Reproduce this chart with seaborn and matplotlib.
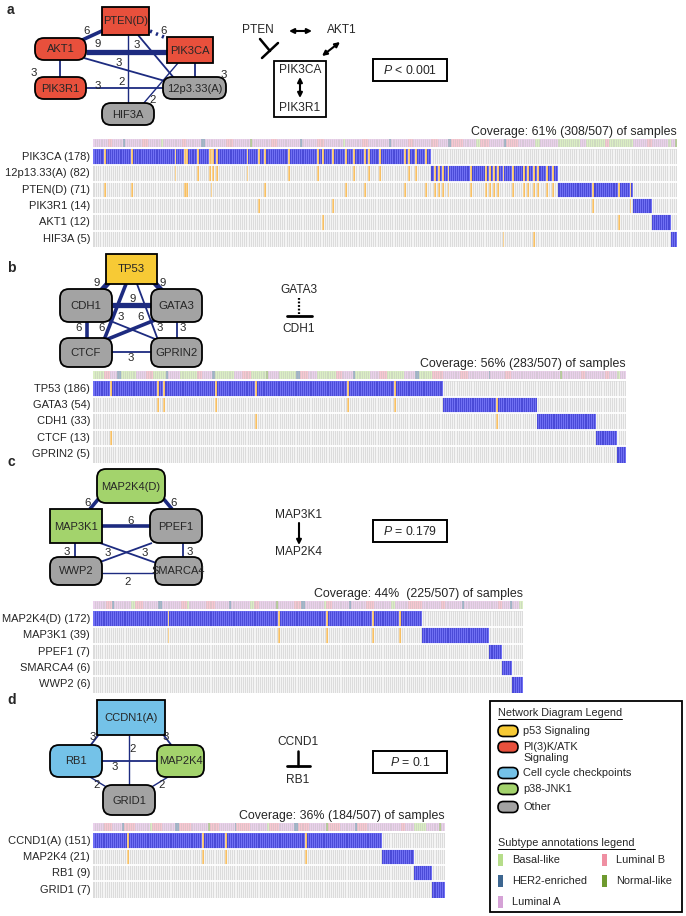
import numpy as np
import pandas as pd
import matplotlib.pyplot as plt
import seaborn as sns
from matplotlib.colors import ListedColormap, to_rgb
from matplotlib.patches import FancyBboxPatch, Rectangle

# ── Data ─────────────────────────────────────────────────────────────────────
# panel a
a_genes   = ["PIK3CA", "12p13.33(A)", "PTEN(D)", "PIK3R1", "AKT1", "HIF3A"]
a_counts  = [178, 82, 71, 14, 12, 5]
a_blocks  = [178, 67, 40, 10, 10, 3]          # samples whose first hit is this gene
a_cooc    = {1: [43, 55, 61, 63, 65, 81, 103, 118, 137, 145, 151, 166, 170],
             2: [6, 20, 48, 49, 62, 90, 133, 143, 164, 175, 180, 182, 184, 187, 199,
                 207, 209, 211, 213, 221, 227, 229, 232, 234, 239, 242],
             3: [87, 126, 263, 283],
             4: [121, 277],
             5: [216, 232]}
a_subtype = [("L", 8), ("B", 2), ("L", 6), ("H", 1), ("L", 9), ("B", 3), ("L", 7), ("S", 1),
             ("L", 10), ("B", 2), ("L", 8), ("H", 2), ("L", 11), ("B", 4), ("L", 9), ("N", 1),
             ("L", 10), ("B", 3), ("L", 12), ("H", 1), ("L", 8), ("B", 4), ("L", 10), ("S", 1),
             ("L", 9), ("B", 3), ("L", 11), ("H", 1), ("L", 9), ("B", 3), ("L", 9),
             ("B", 4), ("L", 5), ("H", 2), ("B", 6), ("L", 7), ("S", 2), ("B", 5), ("L", 8),
             ("H", 1), ("B", 6), ("L", 9), ("S", 3), ("L", 9),
             ("S", 12), ("L", 3), ("S", 10), ("B", 2), ("S", 13),
             ("L", 7), ("B", 3), ("L", 8), ("S", 2), ("L", 2), ("N", 1)]
a_cov     = "Coverage: 61% (308/507) of samples"
a_pval    = "$P$ < 0.001"
a_nodes   = {"PTEN(D)": "pi3k", "AKT1": "pi3k", "PIK3CA": "pi3k", "PIK3R1": "pi3k",
             "12p3.33(A)": "other", "HIF3A": "other"}
a_edges   = [("PTEN(D)", "AKT1", 6), ("PTEN(D)", "PIK3CA", 6), ("AKT1", "PIK3CA", 9),
             ("PTEN(D)", "12p3.33(A)", 3), ("PTEN(D)", "HIF3A", 2), ("AKT1", "12p3.33(A)", 3),
             ("PIK3CA", "12p3.33(A)", 3), ("PIK3CA", "HIF3A", 2), ("AKT1", "PIK3R1", 3),
             ("PIK3R1", "12p3.33(A)", 3)]

# panel b
b_genes   = ["TP53", "GATA3", "CDH1", "CTCF", "GPRIN2"]
b_counts  = [186, 54, 33, 13, 5]
b_blocks  = [186, 50, 31, 11, 5]
b_cooc    = {1: [34, 37, 65, 135, 160], 2: [86, 214], 3: [9]}
b_subtype = [("S", 6), ("B", 3), ("L", 4), ("H", 2), ("S", 8), ("L", 5), ("B", 4), ("S", 7),
             ("H", 1), ("L", 6), ("S", 9), ("B", 3), ("L", 5), ("H", 2), ("S", 10), ("L", 4),
             ("B", 5), ("S", 8), ("N", 1), ("L", 6), ("S", 9), ("H", 2), ("B", 4), ("L", 5),
             ("S", 10), ("B", 3), ("L", 6), ("H", 1), ("S", 8), ("L", 5), ("B", 4), ("S", 9),
             ("L", 6), ("H", 2), ("S", 7), ("B", 6),
             ("L", 9), ("B", 4), ("L", 11), ("H", 1), ("L", 8), ("B", 3), ("L", 14),
             ("L", 12), ("N", 1), ("L", 10), ("B", 2), ("L", 6),
             ("L", 5), ("B", 2), ("L", 4), ("S", 2), ("L", 3)]
b_cov     = "Coverage: 56% (283/507) of samples"
b_nodes   = {"TP53": "p53", "CDH1": "other", "GATA3": "other", "CTCF": "other", "GPRIN2": "other"}
b_edges   = [("TP53", "CDH1", 9), ("TP53", "GATA3", 9), ("CDH1", "GATA3", 9),
             ("TP53", "CTCF", 6), ("TP53", "GPRIN2", 3), ("CDH1", "CTCF", 6),
             ("CDH1", "GPRIN2", 3), ("GATA3", "CTCF", 6), ("GATA3", "GPRIN2", 3),
             ("CTCF", "GPRIN2", 3)]

# panel c
c_genes   = ["MAP2K4(D)", "MAP3K1", "PPEF1", "SMARCA4", "WWP2"]
c_counts  = [172, 39, 7, 6, 6]
c_blocks  = [172, 35, 7, 5, 6]
c_cooc    = {1: [39, 97, 122, 146, 160]}
c_subtype = [("L", 7), ("B", 3), ("H", 1), ("L", 9), ("S", 2), ("B", 4), ("L", 8), ("H", 2),
             ("L", 10), ("B", 3), ("S", 1), ("L", 9), ("B", 5), ("L", 7), ("H", 1), ("L", 10),
             ("S", 2), ("B", 3), ("L", 9), ("N", 1), ("L", 8), ("B", 4), ("H", 2), ("L", 10),
             ("S", 1), ("B", 3), ("L", 9), ("H", 1), ("L", 8), ("B", 4), ("L", 9), ("S", 2),
             ("L", 7), ("B", 7),
             ("L", 10), ("B", 2), ("L", 9), ("H", 1), ("L", 13),
             ("L", 5), ("B", 2), ("L", 4), ("H", 1), ("L", 4), ("S", 2)]
c_cov     = "Coverage: 44%  (225/507) of samples"
c_pval    = "$P$ = 0.179"
c_nodes   = {"MAP2K4(D)": "p38", "MAP3K1": "p38", "PPEF1": "other", "WWP2": "other",
             "SMARCA4": "other"}
c_edges   = [("MAP2K4(D)", "MAP3K1", 6), ("MAP2K4(D)", "PPEF1", 6), ("MAP3K1", "PPEF1", 6),
             ("MAP3K1", "WWP2", 3), ("PPEF1", "SMARCA4", 3), ("MAP3K1", "SMARCA4", 3),
             ("PPEF1", "WWP2", 3), ("WWP2", "SMARCA4", 2)]

# panel d
d_genes   = ["CCND1(A)", "MAP2K4", "RB1", "GRID1"]
d_counts  = [151, 21, 9, 7]
d_blocks  = [151, 17, 9, 7]
d_cooc    = {1: [18, 57, 69, 111]}
d_subtype = [("L", 6), ("B", 4), ("L", 5), ("H", 1), ("B", 6), ("L", 8), ("S", 1), ("B", 5),
             ("L", 7), ("H", 2), ("B", 6), ("L", 9), ("N", 1), ("B", 5), ("L", 8), ("H", 1),
             ("B", 7), ("L", 9), ("S", 1), ("B", 5), ("L", 8), ("H", 2), ("B", 6), ("L", 9),
             ("N", 1), ("B", 6), ("L", 8), ("H", 1), ("B", 5), ("L", 8),
             ("L", 10), ("B", 2), ("L", 5), ("S", 6), ("L", 3), ("L", 4), ("N", 1), ("L", 2)]
d_cov     = "Coverage: 36% (184/507) of samples"
d_pval    = "$P$ = 0.1"
d_nodes   = {"CCDN1(A)": "cycle", "RB1": "cycle", "MAP2K4": "p38", "GRID1": "other"}
d_edges   = [("CCDN1(A)", "RB1", 3), ("CCDN1(A)", "MAP2K4", 3), ("CCDN1(A)", "GRID1", 2),
             ("RB1", "MAP2K4", 3), ("RB1", "GRID1", 2), ("MAP2K4", "GRID1", 2)]

# legends
net_legend   = [("p53", "p53 Signaling"), ("pi3k", "PI(3)K/ATK\nSignaling"),
                ("cycle", "Cell cycle checkpoints"), ("p38", "p38-JNK1"), ("other", "Other")]
subtype_names = {"S": "Basal-like", "H": "HER2-enriched", "L": "Luminal A",
                 "B": "Luminal B", "N": "Normal-like"}

# ── Style ────────────────────────────────────────────────────────────────────
NODE_COL = {"p53": "#f7ca35", "pi3k": "#e8503c", "cycle": "#74c2e8",
            "p38": "#a3d36c", "other": "#a3a3a3"}
SUB_COL  = {"S": "#b6dd8a", "H": "#3d6690", "L": "#d5a2d6", "B": "#ef8fa2", "N": "#6f9a2f"}
SUB_ORDER = ["S", "H", "L", "B", "N"]
EDGE   = "#1d2b80"
EDGE_LW = {2: 1.0, 3: 1.3, 6: 2.6, 9: 3.8}
ONC_CMAP = ListedColormap(["#dcdcdc", "#7070f4", "#f7bf63"])
STRIPE = {0: "#ffffff", 1: "#3a3acb", 2: "#fbdca8"}


def pale(c, k=0.5):
    r = np.array(to_rgb(c))
    return tuple(1 - k * (1 - r))


SUB_CMAP = ListedColormap([pale(SUB_COL[s]) for s in SUB_ORDER])

W, H = 686, 916
sns.set_theme(style="white")
plt.rcParams["font.family"] = ["Liberation Sans", "DejaVu Sans"]
plt.rcParams["mathtext.fontset"] = "custom"
plt.rcParams["mathtext.it"] = "Liberation Sans:italic"
plt.rcParams["mathtext.rm"] = "Liberation Sans"

fig = plt.figure(figsize=(W / 100, H / 100), dpi=100)
ax0 = fig.add_axes([0, 0, 1, 1])
ax0.set_xlim(0, W)
ax0.set_ylim(H, 0)
ax0.axis("off")


def px_box(x0, y0, x1, y1):
    return [x0 / W, 1 - y1 / H, (x1 - x0) / W, (y1 - y0) / H]


def draw_net(nodes, edges, boxes, geom, fs=8):
    for (u, v, w), (p, q, lab, ls) in zip(edges, geom):
        ax0.plot([p[0], q[0]], [p[1], q[1]], color=EDGE, lw=EDGE_LW[w], ls=ls,
                 solid_capstyle="butt", zorder=2)
        if lab is not None:
            ax0.text(lab[0], lab[1], str(w), fontsize=8.2, ha="center", va="center", zorder=4)
    for name, cat in nodes.items():
        x0, y0, x1, y1, shape = boxes[name]
        style = "round,pad=0,rounding_size=9" if shape == "round" else "square,pad=0"
        ax0.add_patch(FancyBboxPatch((x0, y0), x1 - x0, y1 - y0, boxstyle=style,
                                     fc=NODE_COL[cat], ec="black", lw=1.3, zorder=3))
        ax0.text((x0 + x1) / 2, (y0 + y1) / 2 + 0.5, name, fontsize=fs, ha="center",
                 va="center", zorder=4)


def oncoprint(genes, counts, blocks, cooc, subtype, cov, x0, x1, y_ann, y_top, row_h=16.3):
    n = sum(blocks)
    owner = np.repeat(np.arange(len(blocks)), blocks)
    mat = np.zeros((len(genes), n), dtype=int)
    for r in range(len(blocks)):
        mat[r, owner == r] = 1
    for r, cols in cooc.items():
        for c in cols:
            mat[r, c] = 2
            mat[owner[c], c] = 2
    labels = [f"{g} ({k})" for g, k in zip(genes, counts)]
    df = pd.DataFrame(mat, index=labels)

    ax = fig.add_axes(px_box(x0, y_top, x1, y_top + len(genes) * row_h))
    sns.heatmap(df, ax=ax, cmap=ONC_CMAP, vmin=-0.5, vmax=2.5, cbar=False,
                xticklabels=False, yticklabels=True)
    ax.set_yticklabels(labels, rotation=0, fontsize=8)
    ax.tick_params(left=False, length=0, pad=2)
    ax.set_xlabel("")
    ax.set_ylabel("")
    # thin per-sample separators, tinted by the cell they belong to
    for r in range(len(genes)):
        ax.vlines(np.arange(1, n), r, r + 1, colors=[STRIPE[v] for v in mat[r, 1:]], lw=0.5)
    for i in range(1, len(genes)):
        ax.axhline(i, color="white", lw=1.3)

    codes = [SUB_ORDER.index(s) for s, k in subtype for _ in range(k)]
    ax2 = fig.add_axes(px_box(x0, y_ann, x1, y_ann + 7.5))
    sns.heatmap(np.array([codes]), ax=ax2, cmap=SUB_CMAP, vmin=-0.5, vmax=4.5, cbar=False,
                xticklabels=False, yticklabels=False)
    ax2.vlines(np.arange(1, n), 0, 1, color="#bbbbbb", lw=0.45, alpha=0.6)
    ax0.text(x1, y_ann - 7, cov, fontsize=8.9, ha="right", va="center")


def pbox(x0, y0, text):
    ax0.add_patch(Rectangle((x0, y0), 74, 22, fill=False, ec="black", lw=1.4))
    ax0.text(x0 + 37, y0 + 11.5, text, fontsize=8.8, ha="center", va="center")


def arrow(p, q, style="<|-|>"):
    ax0.annotate("", xy=q, xytext=p,
                 arrowprops=dict(arrowstyle=style, lw=1.5, color="black",
                                 mutation_scale=7, shrinkA=0, shrinkB=0))


# ── Panel a ──────────────────────────────────────────────────────────────────
ax0.text(7, 10, "a", fontsize=10, fontweight="bold", va="center")
a_boxes = {"PTEN(D)": (102, 7, 149, 35, "rect"), "AKT1": (35, 38, 86, 60, "round"),
           "PIK3CA": (167, 37, 213, 63, "rect"), "PIK3R1": (35, 77, 86, 99, "round"),
           "12p3.33(A)": (163, 77, 226, 99, "round"), "HIF3A": (102, 103, 154, 125, "round")}
a_geom = [((104, 30), (80, 41), (87, 31), "-"),
          ((150, 31), (166, 38), (164, 31), (0, (0.6, 1.2))),
          ((86, 52), (167, 52), (98, 44), "-"),
          ((138, 35), (174, 78), (137, 45), "-"),
          ((128, 35), (128, 103), (122, 82), "-"),
          ((84, 58), (165, 81), (119, 63), "-"),
          ((195, 63), (195, 77), (224, 75), "-"),
          ((178, 63), (143, 104), (153, 100), "-"),
          ((60, 60), (60, 77), (34, 73), "-"),
          ((86, 88), (163, 88), (98, 86), "-")]
draw_net(a_nodes, a_edges, a_boxes, a_geom, fs=8)

ax0.text(258, 30, "PTEN", fontsize=8.6, ha="center", va="center")
ax0.text(342, 30, "AKT1", fontsize=8.6, ha="center", va="center")
arrow((289, 31), (312, 31))
arrow((322, 56), (340, 42))
ax0.plot([260, 270], [39, 51], color="black", lw=1.8)
ax0.plot([262, 278], [58, 43], color="black", lw=1.8)
ax0.add_patch(Rectangle((274, 61), 52, 56, fill=False, ec="black", lw=1.3))
ax0.text(300, 70, "PIK3CA", fontsize=8.6, ha="center", va="center")
ax0.text(300, 108, "PIK3R1", fontsize=8.6, ha="center", va="center")
arrow((300, 77), (300, 98))
pbox(373, 59, a_pval)
oncoprint(a_genes, a_counts, a_blocks, a_cooc, a_subtype, a_cov, 93, 677, 139, 149)

# ── Panel b ──────────────────────────────────────────────────────────────────
ax0.text(7, 268, "b", fontsize=10, fontweight="bold", va="center")
b_boxes = {"TP53": (106, 254, 157, 284, "rect"), "CDH1": (60, 289, 112, 322, "round"),
           "GATA3": (151, 289, 202, 322, "round"), "CTCF": (60, 338, 112, 367, "round"),
           "GPRIN2": (151, 338, 202, 367, "round")}
b_geom = [((110, 281), (100, 292), (97, 283), "-"),
          ((153, 281), (163, 292), (163, 283), "-"),
          ((112, 305), (151, 305), (133, 299), "-"),
          ((126, 284), (104, 340), (102, 328), "-"),
          ((137, 284), (158, 340), (160, 328), "-"),
          ((87, 322), (87, 338), (79, 328), "-"),
          ((108, 320), (160, 341), (121, 317), "-"),
          ((155, 320), (103, 341), (141, 317), "-"),
          ((177, 322), (177, 338), (183, 328), "-"),
          ((112, 352), (151, 352), (131, 358), "-")]
draw_net(b_nodes, b_edges, b_boxes, b_geom, fs=8.2)

ax0.text(299, 290, "GATA3", fontsize=8.6, ha="center", va="center")
ax0.plot([299, 299], [298, 314], color="black", lw=1.6, ls=(0, (0.8, 0.8)))
ax0.plot([287, 312], [316, 316], color="black", lw=2.0)
ax0.text(299, 329, "CDH1", fontsize=8.6, ha="center", va="center")
oncoprint(b_genes, b_counts, b_blocks, b_cooc, b_subtype, b_cov, 93, 626, 371, 380.5, 16.4)

# ── Panel c ──────────────────────────────────────────────────────────────────
ax0.text(7, 462, "c", fontsize=10, fontweight="bold", va="center")
c_boxes = {"MAP2K4(D)": (97, 469, 165, 503, "round"), "MAP3K1": (50, 509, 102, 543, "rect"),
           "PPEF1": (150, 509, 202, 543, "round"), "WWP2": (50, 557, 102, 585, "round"),
           "SMARCA4": (155, 557, 202, 585, "round")}
c_geom = [((100, 497), (90, 509), (88, 503), "-"),
          ((162, 497), (172, 509), (174, 503), "-"),
          ((102, 526), (150, 526), (131, 521), "-"),
          ((75, 543), (75, 557), (67, 552), "-"),
          ((183, 543), (183, 557), (190, 552), "-"),
          ((100, 543), (162, 565), (145, 553), "-"),
          ((152, 543), (92, 565), (108, 553), "-"),
          ((102, 573), (155, 573), (128, 582), "-")]
draw_net(c_nodes, c_edges, c_boxes, c_geom, fs=8)

ax0.text(299, 515, "MAP3K1", fontsize=8.6, ha="center", va="center")
arrow((299, 523), (299, 545), "-|>")
ax0.text(299, 552, "MAP2K4", fontsize=8.6, ha="center", va="center")
pbox(373, 520, c_pval)
oncoprint(c_genes, c_counts, c_blocks, c_cooc, c_subtype, c_cov, 93, 523, 601, 611)

# ── Panel d ──────────────────────────────────────────────────────────────────
ax0.text(7, 700, "d", fontsize=10, fontweight="bold", va="center")
d_boxes = {"CCDN1(A)": (97, 700, 165, 735, "rect"), "RB1": (50, 745, 102, 777, "round"),
           "MAP2K4": (157, 745, 204, 777, "round"), "GRID1": (103, 785, 155, 815, "round")}
d_geom = [((100, 733), (90, 746), (93, 737), "-"),
          ((162, 733), (172, 746), (166, 737), "-"),
          ((129, 735), (129, 785), (133, 749), "-"),
          ((102, 761), (157, 761), (115, 767), "-"),
          ((90, 777), (108, 788), (97, 785), "-"),
          ((168, 777), (150, 788), (162, 785), "-")]
draw_net(d_nodes, d_edges, d_boxes, d_geom, fs=8)

ax0.text(298, 742, "CCND1", fontsize=8.6, ha="center", va="center")
ax0.plot([298, 298], [751, 766], color="black", lw=1.8)
ax0.plot([287, 310], [766, 766], color="black", lw=2.0)
ax0.text(298, 780, "RB1", fontsize=8.6, ha="center", va="center")
pbox(373, 751, d_pval)
oncoprint(d_genes, d_counts, d_blocks, d_cooc, d_subtype, d_cov, 93, 445, 823, 832.5)

# ── Legend box ───────────────────────────────────────────────────────────────
ax0.add_patch(Rectangle((490, 701), 192, 211, fill=False, ec="black", lw=1.3))
fig.canvas.draw()
for title, ty in [("Network Diagram Legend", 713), ("Subtype annotations legend", 843)]:
    t = ax0.text(498, ty, title, fontsize=7.8, va="center")
    bb = t.get_window_extent().transformed(ax0.transData.inverted())
    ax0.plot([bb.x0, bb.x1], [ty + 5.5, ty + 5.5], color="black", lw=0.7)

for (cat, label), ty in zip(net_legend, [731, 747, 773, 789, 807]):
    ax0.add_patch(FancyBboxPatch((498, ty - 5.5), 20, 11, boxstyle="round,pad=0,rounding_size=5.5",
                                 fc=NODE_COL[cat], ec="black", lw=1.2))
    ax0.text(523, ty - 0.5 if "\n" not in label else ty + 5.5, label, fontsize=7.9,
             va="center", linespacing=1.15)

sub_pos = {"S": (498, 860), "H": (498, 881), "L": (498, 902), "B": (602, 860), "N": (602, 881)}
for code, name in subtype_names.items():
    sx, sy = sub_pos[code]
    ax0.add_patch(Rectangle((sx, sy - 6), 4.5, 12, fc=SUB_COL[code], ec="none"))
    ax0.text(sx + 14, sy, name, fontsize=7.9, va="center")

fig.savefig("out.png", dpi=100)
